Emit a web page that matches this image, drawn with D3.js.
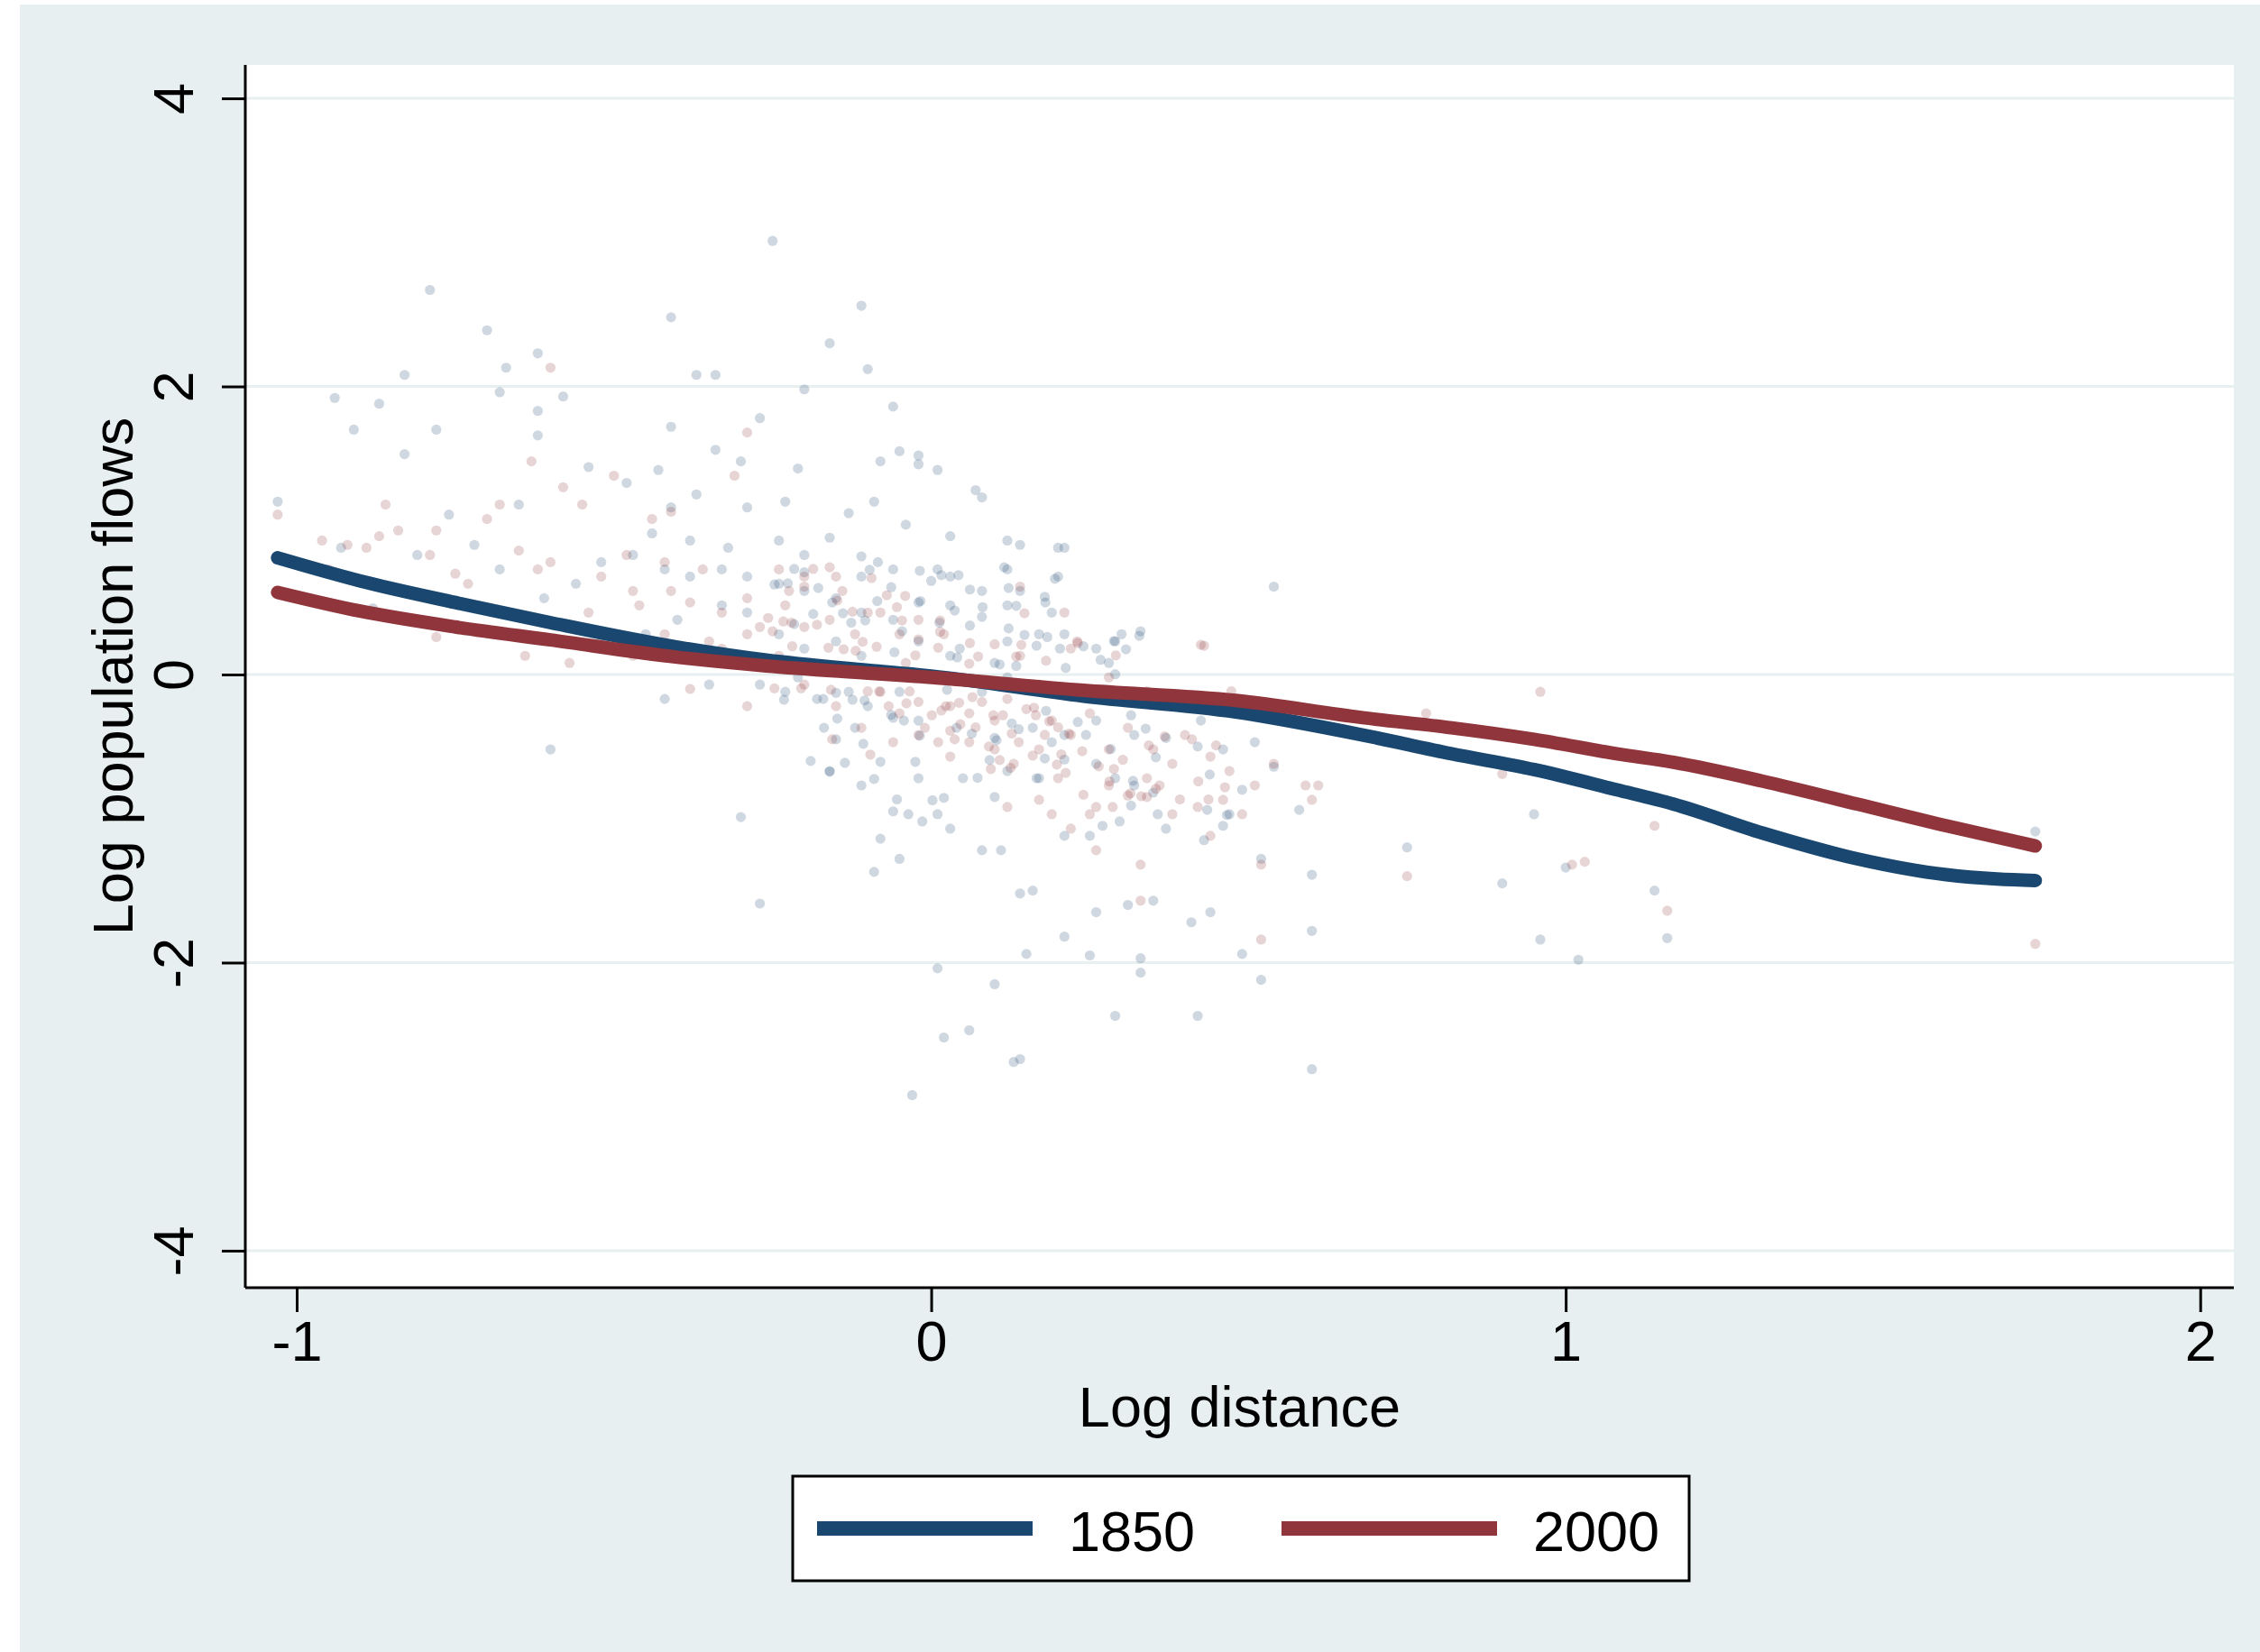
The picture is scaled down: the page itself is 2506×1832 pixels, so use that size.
<!DOCTYPE html>
<html><head><meta charset="utf-8">
<script src="https://cdn.jsdelivr.net/npm/d3@7"></script>
<style>html,body{margin:0;padding:0;background:#fff;}svg{display:block;}</style>
</head><body>
<svg id="chart" width="2506" height="1832"></svg>
<script>
// ---- data ----
const yTicks = [-4, -2, 0, 2, 4];
const xTicks = [-1, 0, 1, 2];
const seriesNames = ["1850", "2000"];
const curveX = [-1.03, -0.9, -0.75, -0.6, -0.4, -0.26, -0.1, 0.0, 0.24, 0.48, 0.68, 0.82, 0.95, 1.08, 1.17, 1.31, 1.46, 1.6, 1.68, 1.74];
const curve1850 = [0.81, 0.65, 0.50, 0.36, 0.19, 0.10, 0.03, -0.01, -0.15, -0.26, -0.42, -0.55, -0.66, -0.80, -0.90, -1.10, -1.28, -1.39, -1.42, -1.43];
const curve2000 = [0.57, 0.44, 0.33, 0.24, 0.12, 0.06, 0.01, -0.02, -0.11, -0.18, -0.30, -0.37, -0.45, -0.55, -0.61, -0.74, -0.90, -1.05, -1.13, -1.19];
const pts1850 = [[-0.25,3.01],[-0.79,2.67],[-0.11,2.56],[-0.41,2.48],[-0.70,2.39],[-0.62,2.23],[-0.16,2.30],[-0.67,2.13],[-0.37,2.08],[-0.34,2.08],[-0.83,2.08],[-0.10,2.12],[-0.94,1.92],[-0.87,1.88],[-0.58,1.93],[-0.68,1.96],[-0.20,1.98],[-0.62,1.83],[-0.06,1.86],[-0.91,1.70],[-0.78,1.70],[-0.62,1.66],[-0.41,1.72],[-0.27,1.78],[-0.34,1.56],[-0.83,1.53],[-0.05,1.55],[-0.02,1.52],[-0.08,1.48],[-0.02,1.46],[0.01,1.42],[-0.54,1.44],[-0.48,1.33],[-0.43,1.42],[-0.30,1.48],[-0.21,1.43],[-1.03,1.20],[0.07,1.28],[0.08,1.23],[-0.09,1.20],[-0.13,1.12],[-0.23,1.20],[-0.29,1.16],[-0.41,1.16],[-0.37,1.25],[-0.65,1.18],[-0.76,1.11],[-0.04,1.04],[0.12,0.93],[0.14,0.90],[0.20,0.88],[0.21,0.88],[0.54,0.61],[0.03,0.96],[-0.16,0.95],[-0.11,0.82],[0.01,0.73],[0.12,0.73],[0.18,0.50],[0.19,0.43],[-0.81,0.83],[-0.88,0.46],[-0.93,0.88],[-0.60,-0.52],[-0.42,-0.17],[-0.35,-0.07],[-0.30,-0.99],[-0.27,-1.59],[-0.03,-2.92],[0.02,-2.52],[0.06,-2.47],[0.10,-2.15],[0.01,-2.04],[0.13,-2.69],[0.14,-2.67],[0.29,-2.37],[0.42,-2.37],[0.60,-2.74],[0.52,-2.12],[0.49,-1.94],[0.33,-1.97],[0.33,-2.07],[0.25,-1.95],[0.21,-1.82],[0.16,-1.50],[0.14,-1.52],[0.15,-1.94],[0.26,-1.65],[0.31,-1.60],[0.35,-1.57],[0.41,-1.72],[0.44,-1.65],[0.52,-1.28],[0.60,-1.39],[0.60,-1.78],[0.75,-1.20],[0.90,-1.45],[0.95,-0.97],[0.96,-1.84],[1.02,-1.98],[1.14,-1.50],[1.16,-1.83],[1.00,-1.34],[1.74,-1.09],[-0.05,-1.28],[-0.08,-1.14],[-0.09,-1.37],[-0.06,-0.95],[0.01,-0.97],[0.03,-1.07],[0.08,-1.22],[0.11,-1.22],[0.21,-1.12],[0.25,-1.12],[0.27,-1.05],[0.37,-1.07],[0.46,-1.05],[0.47,-0.97],[0.43,-1.15],[0.49,-0.80],[0.58,-0.94],[0.54,-0.64],[0.35,-0.82],[0.32,-0.77],[0.29,-0.72],[0.26,-0.62],[0.21,-0.59],[0.17,-0.72],[0.12,-0.67],[0.10,-0.85],[0.05,-0.72],[-0.02,-0.72],[-0.11,-0.77],[-0.16,-0.67],[-0.19,-0.60],[-0.15,-0.45],[-0.12,-0.37],[-0.06,-0.30],[-0.02,-0.32],[0.04,-0.37],[0.10,-0.44],[0.16,-0.37],[0.21,-0.42],[0.26,-0.32],[0.32,-0.42],[0.37,-0.44],[0.42,-0.50],[0.46,-0.52],[0.51,-0.47],[-0.23,-0.12],[-0.27,-0.07],[-0.21,-0.02],[-0.17,-0.17],[-0.13,-0.12],[-0.10,-0.22],[-0.05,-0.12],[0.08,-0.12],[0.12,-0.02],[0.17,-0.07],[0.22,-0.12],[0.28,0.08],[0.30,0.28],[0.33,0.30],[0.29,0.23],[0.26,0.18],[0.21,0.28],[0.17,0.28],[0.12,0.23],[0.08,0.40],[0.03,0.48],[-0.02,0.50],[-0.06,0.38],[-0.11,0.43],[-0.15,0.53],[-0.20,0.58],[-0.24,0.63],[-0.29,0.68],[-0.33,0.73],[-0.38,0.68],[-0.42,0.73],[-0.47,0.83],[-0.52,0.78],[-0.33,0.48],[-0.29,0.43],[-0.40,0.38],[-0.45,0.28],[-0.49,0.23],[-0.24,0.28],[-0.20,0.18],[-0.15,0.23],[-0.11,0.13],[-0.02,0.23],[0.03,0.13],[0.10,0.08],[-0.11,0.68],[-0.06,0.73],[-0.20,0.83],[-0.24,0.93],[-0.32,0.88],[-0.38,0.93],[-0.44,0.98],[0.03,0.68],[0.08,0.58],[0.14,0.58],[0.20,0.68],[0.12,0.48],[-0.72,0.90],[-0.68,0.73],[-0.56,0.63],[-0.61,0.53],
 [-0.216,0.733],[-0.20,0.71],[-0.247,0.625],[-0.226,0.633],[-0.178,0.60],[-0.097,0.727],[-0.084,0.78],[-0.063,0.606],[-0.018,0.72],[0.0,0.65],[0.016,0.69],[0.043,0.69],[0.061,0.59],[0.115,0.744],[0.122,0.60],[0.195,0.665],[0.179,0.54],[0.134,0.477],[0.081,0.468],[0.037,0.444],[-0.017,0.51],[-0.085,0.51],[-0.156,0.50],[-0.186,0.42],[-0.139,0.425],[-0.126,0.36],[-0.104,0.375],[-0.216,0.35],[-0.046,0.30],[0.013,0.36],[0.061,0.34],[0.122,0.32],[0.147,0.275],[0.183,0.26],[0.166,0.20],[0.203,0.18],[0.24,0.196],[0.288,0.233],[0.307,0.175],[0.328,0.269],[0.267,0.102],[0.212,0.046],[0.29,0.002],[-0.058,0.155],[0.045,0.18],[0.041,0.119],[0.108,0.07],[0.134,0.06],[-0.232,-0.175],[-0.18,-0.17],[-0.15,-0.127],[-0.124,-0.175],[-0.105,-0.18],[0.025,-0.106],[-0.063,-0.28],[-0.043,-0.32],[-0.148,-0.306],[-0.169,-0.37],[-0.018,-0.425],[0.064,-0.41],[0.103,-0.456],[0.138,-0.38],[0.127,-0.34],[0.181,-0.252],[0.231,-0.33],[0.244,-0.419],[0.19,-0.47],[0.283,-0.517],[0.315,-0.283],[0.338,-0.376],[0.425,-0.32],[0.354,-0.575],[-0.107,-0.481],[-0.136,-0.613],[-0.16,-0.675],[-0.08,-0.606],[-0.025,-0.606],[-0.09,-0.725],[0.073,-0.717],[0.092,-0.594],[0.179,-0.583],[0.166,-0.72],[0.318,-0.738],[0.439,-0.694],[-0.054,-0.867],[0.002,-0.873],[0.02,-0.856],[-0.036,-0.97],[-0.014,-1.02],[0.315,-0.91],[0.357,-0.97],[0.297,-1.02],[0.435,-0.94],[0.466,-0.975]];
const pts2000 = [[-1.03,1.11],[-0.96,0.93],[-0.92,0.90],[-0.87,0.96],[-0.86,1.18],[-0.84,1.00],[-0.79,0.83],[-0.78,1.00],[-0.75,0.70],[-0.73,0.63],[-0.70,1.08],[-0.68,1.18],[-0.65,0.86],[-0.62,0.73],[-0.60,0.78],[-0.58,1.30],[-0.63,1.48],[-0.54,0.43],[-0.55,1.18],[-0.52,0.68],[-0.50,1.38],[-0.47,0.58],[-0.44,1.08],[-0.41,1.13],[-0.38,0.50],[-0.36,0.73],[-0.33,0.43],[-0.31,1.38],[-0.29,1.68],[-0.27,0.33],[-0.23,0.48],[-0.20,0.68],[-0.16,0.38],[-0.14,0.58],[-0.12,0.28],[-0.08,0.43],[-0.05,0.28],[-0.02,0.38],[0.02,0.28],[-0.78,0.26],[-0.60,2.13],[-0.38,-0.10],[-0.29,-0.22],[-0.20,-0.07],[-0.15,-0.22],[-0.08,-0.12],[-0.05,-0.27],[-0.01,-0.37],[0.03,-0.22],[0.06,-0.27],[0.10,-0.32],[0.12,-0.17],[0.15,-0.24],[0.19,-0.32],[0.22,-0.42],[0.25,-0.27],[0.28,-0.52],[0.31,-0.37],[0.35,-0.52],[0.38,-0.62],[0.40,-0.42],[0.44,-0.57],[0.47,-0.67],[0.51,-0.77],[0.54,-0.62],[0.59,-0.77],[0.60,-0.87],[0.43,0.20],[0.28,-0.77],[0.31,-0.84],[0.34,-0.85],[0.36,-0.77],[0.33,-1.57],[0.26,-0.92],[0.22,-1.07],[0.20,-0.72],[0.17,-0.52],[0.13,-0.62],[0.10,-0.52],[0.06,-0.47],[0.03,-0.57],[-0.02,-0.42],[-0.06,-0.47],[-0.11,-0.37],[0.42,-0.92],[0.46,-0.87],[0.49,-0.97],[0.52,-1.32],[0.61,-0.77],[0.78,-0.27],[0.96,-0.12],[0.75,-1.40],[0.90,-0.69],[1.14,-1.05],[1.16,-1.64],[1.01,-1.32],[1.03,-1.30],[1.74,-1.87],[0.52,-1.84],[0.33,-1.32],[0.12,-0.92],[0.17,-0.87],[0.01,-0.02],[-0.04,0.08],[-0.11,0.03],[-0.24,0.13],[-0.33,0.18],[-0.42,0.28],[-0.47,0.13],[-0.52,0.23],[0.10,0.21],[0.14,0.13],[0.22,0.18],[0.28,-0.02],[0.23,0.23],[0.21,0.43],[0.14,0.61],[-0.07,0.55],[-0.20,0.33],[-0.22,0.36],[-0.29,0.28],[-0.35,0.23],[-0.41,0.58],[-0.46,0.48],[-0.42,0.78],[-0.48,0.83],[-0.29,0.53],[-0.24,0.73],[-0.15,0.68],[-0.10,0.43],[0.38,-0.97],[0.44,-1.12],[0.26,-1.22],[0.19,-0.97],[-0.57,0.08],[-0.64,0.13],[-0.95,0.73],[-0.89,0.88],
 [-0.186,0.733],[-0.16,0.744],[-0.094,0.67],[-0.20,0.61],[-0.224,0.58],[-0.041,0.546],[-0.054,0.468],[-0.148,0.514],[-0.124,0.436],[-0.257,0.393],[-0.233,0.368],[-0.18,0.346],[-0.046,0.375],[-0.25,0.30],[-0.219,0.196],[-0.162,0.186],[-0.138,0.175],[-0.119,0.165],[-0.108,0.227],[-0.086,0.193],[-0.02,0.244],[-0.025,0.133],[0.011,0.186],[0.014,0.296],[0.014,0.375],[0.061,0.218],[0.074,0.125],[0.06,0.075],[0.147,0.425],[0.142,0.206],[0.134,0.125],[0.181,0.096],[0.231,0.218],[0.291,0.133],[0.425,0.206],[-0.247,-0.096],[-0.205,-0.096],[-0.158,-0.106],[-0.10,-0.117],[-0.082,-0.117],[-0.034,-0.117],[-0.067,-0.22],[-0.039,-0.20],[-0.02,-0.19],[0.023,-0.22],[0.044,-0.196],[0.065,-0.157],[0.08,-0.19],[0.001,-0.283],[0.016,-0.25],[0.03,-0.39],[0.037,-0.45],[0.011,-0.47],[0.046,-0.345],[0.07,-0.367],[0.098,-0.283],[0.113,-0.283],[0.127,-0.41],[0.138,-0.47],[0.091,-0.50],[0.094,-0.656],[0.125,-0.648],[0.108,-0.594],[0.162,-0.23],[0.165,-0.283],[0.186,-0.325],[0.179,-0.419],[0.20,-0.367],[0.217,-0.41],[0.238,-0.533],[0.205,-0.554],[0.212,-0.683],[0.198,-0.625],[0.16,-0.563],[-0.096,-0.556],[-0.156,-0.45],[0.264,-0.638],[0.288,-0.656],[0.302,-0.592],[0.343,-0.492],[0.368,-0.43],[0.411,-0.45],[0.449,-0.492],[0.34,-0.72],[0.314,-0.825],[0.331,-0.845],[0.354,-0.794],[0.281,-0.742],[0.24,-0.835],[0.25,-0.97],[0.286,-0.92],[0.392,-0.867],[0.421,-0.742],[0.463,-0.783],[0.437,-0.867],[0.473,-0.117],[0.231,-0.117],[0.34,-0.117],[0.421,-0.157]];
const xTitle = "Log distance";
const yTitle = "Log population flows";

// ---- drawing ----
const navy = "#1a476f", maroon = "#90353b", bg = "#e8eff0";
const font = "'Liberation Sans', Arial, Helvetica, sans-serif";
const svg = d3.select("#chart");
const L = 272, R = 2477, T = 72, B = 1428;
const x = d3.scaleLinear().domain([-1.081, 2.053]).range([L, R]);
const y = d3.scaleLinear().domain([-4.257, 4.232]).range([B, T]);
const fmt = d => String(d);

svg.append("rect").attr("x", 0).attr("y", 0).attr("width", 2506).attr("height", 1832).attr("fill", "#fff");
svg.append("rect").attr("x", 22).attr("y", 5).attr("width", 2484).attr("height", 1827).attr("fill", bg);
svg.append("rect").attr("x", L).attr("y", T).attr("width", R - L).attr("height", B - T).attr("fill", "#fff");

// grid
svg.append("g").selectAll("line").data(yTicks).join("line")
  .attr("x1", L).attr("x2", R).attr("y1", d => y(d)).attr("y2", d => y(d))
  .attr("stroke", bg).attr("stroke-width", 3);

// scatter
const sc = svg.append("g");
sc.selectAll("circle.a").data(pts1850).join("circle").attr("class", "a")
  .attr("cx", d => x(d[0])).attr("cy", d => y(d[1])).attr("r", 5.6)
  .attr("fill", navy).attr("fill-opacity", 0.21);
sc.selectAll("circle.b").data(pts2000).join("circle").attr("class", "b")
  .attr("cx", d => x(d[0])).attr("cy", d => y(d[1])).attr("r", 5.6)
  .attr("fill", maroon).attr("fill-opacity", 0.21);

// curves
const line = d3.line().x(d => x(d[0])).y(d => y(d[1])).curve(d3.curveMonotoneX);
[[curve1850, navy], [curve2000, maroon]].forEach(([vals, col]) => {
  svg.append("path").datum(curveX.map((cx, i) => [cx, vals[i]]))
    .attr("d", line).attr("fill", "none").attr("stroke", col)
    .attr("stroke-width", 15).attr("stroke-linecap", "round").attr("stroke-linejoin", "round");
});

// axes
const yAxis = d3.axisLeft(y).tickValues(yTicks).tickSize(26).tickPadding(0).tickFormat(fmt);
const gy = svg.append("g").attr("transform", `translate(${L},0)`).call(yAxis);
gy.select(".domain").attr("d", `M0,${T}V${B}`).attr("stroke", "#000").attr("stroke-width", 3);
gy.selectAll(".tick line").attr("stroke", "#000").attr("stroke-width", 3);
gy.selectAll(".tick text").attr("font-family", font).attr("font-size", 63).attr("fill", "#000")
  .attr("text-anchor", "middle").attr("x", null).attr("dy", null).attr("y", null)
  .attr("transform", "translate(-58,0) rotate(-90)");

const xAxis = d3.axisBottom(x).tickValues(xTicks).tickSize(27).tickPadding(0).tickFormat(fmt);
const gx = svg.append("g").attr("transform", `translate(0,${B})`).call(xAxis);
gx.select(".domain").attr("d", `M${L},0H${R}`).attr("stroke", "#000").attr("stroke-width", 3);
gx.selectAll(".tick line").attr("stroke", "#000").attr("stroke-width", 3);
gx.selectAll(".tick text").attr("font-family", font).attr("font-size", 63).attr("fill", "#000")
  .attr("dy", null).attr("y", 81);

// titles
svg.append("text").attr("x", (L + R) / 2).attr("y", 1582).attr("text-anchor", "middle")
  .attr("font-family", font).attr("font-size", 63).text(xTitle);
svg.append("text").attr("transform", `translate(147,${(T + B) / 2}) rotate(-90)`).attr("text-anchor", "middle")
  .attr("font-family", font).attr("font-size", 63).text(yTitle);

// legend
const lg = svg.append("g");
lg.append("rect").attr("x", 879).attr("y", 1637).attr("width", 994).attr("height", 116)
  .attr("fill", "#fff").attr("stroke", "#000").attr("stroke-width", 3);
const legX = [906, 1421];
[navy, maroon].forEach((col, i) => {
  lg.append("line").attr("x1", legX[i]).attr("x2", legX[i] + 239).attr("y1", 1695).attr("y2", 1695)
    .attr("stroke", col).attr("stroke-width", 16);
  lg.append("text").attr("x", legX[i] + 279).attr("y", 1720).attr("font-family", font)
    .attr("font-size", 63).text(seriesNames[i]);
});
</script>
</body></html>
